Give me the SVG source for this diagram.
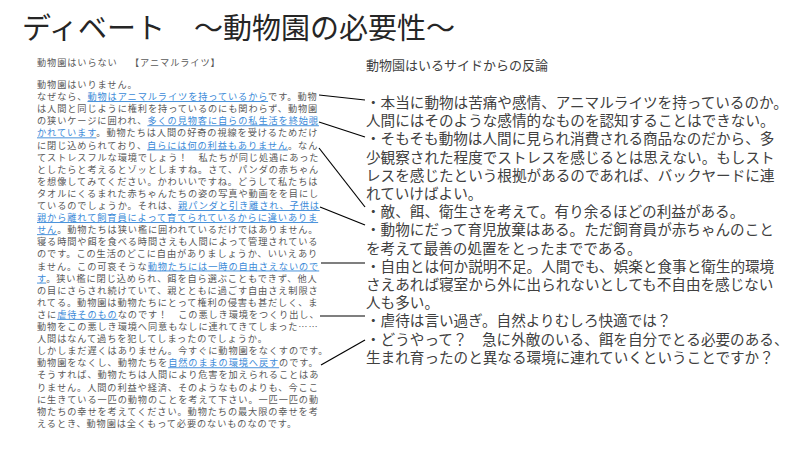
<svg xmlns="http://www.w3.org/2000/svg" width="800" height="450" viewBox="0 0 800 450">
<style>
text{font-family:"Noto Sans CJK JP","Noto Sans CJK SC",sans-serif;}
.t{font-size:29px;fill:#262626;}
.l{font-size:9.2px;letter-spacing:0.9px;fill:#595959;}
.u{fill:#3b8ad8;text-decoration:underline;}
.r{font-size:14.6px;fill:#404040;}
.h{font-size:13px;fill:#404040;}
.c{stroke:#000;stroke-width:1.2;fill:none;}
</style>
<rect width="800" height="450" fill="#fff"/>
<g id="title"><text class="t" x="22" y="39">ディベート　～動物園の必要性～</text></g>
<g id="left">
<text class="l" x="37" y="66">動物園はいらない</text>
<text class="l" x="130" y="66">【アニマルライツ】</text>
<text class="l" x="37" y="88">動物園はいりません。</text>
<text class="l" x="37" y="100.1">なぜなら、<tspan class="u">動物はアニマルライツを持っているから</tspan>です。動物</text>
<text class="l" x="37" y="112.2">は人間と同じように権利を持っているのにも関わらず、動物園</text>
<text class="l" x="37" y="124.3">の狭いケージに囲われ、<tspan class="u">多くの見物客に自らの私生活を終始覗</tspan></text>
<text class="l" x="37" y="136.4"><tspan class="u">かれています</tspan>。動物たちは人間の好奇の視線を受けるためだけ</text>
<text class="l" x="37" y="148.5">に閉じ込められており、<tspan class="u">自らには何の利益もありません</tspan>。なん</text>
<text class="l" x="37" y="160.6">てストレスフルな環境でしょう！　私たちが同じ処遇にあった</text>
<text class="l" x="37" y="172.7">としたらと考えるとゾッとしますね。さて、パンダの赤ちゃん</text>
<text class="l" x="37" y="184.8">を想像してみてください。かわいいですね。どうして私たちは</text>
<text class="l" x="37" y="196.9">タオルにくるまれた赤ちゃんたちの姿の写真や動画をを目にし</text>
<text class="l" x="37" y="209">ているのでしょうか。それは、<tspan class="u">親パンダと引き離され、子供は</tspan></text>
<text class="l" x="37" y="221.1"><tspan class="u">親から離れて飼育員によって育てられているからに違いありま</tspan></text>
<text class="l" x="37" y="233.2"><tspan class="u">せん</tspan>。動物たちは狭い檻に囲われているだけではありません。</text>
<text class="l" x="37" y="245.3">寝る時間や餌を食べる時間さえも人間によって管理されている</text>
<text class="l" x="37" y="257.4">のです。この生活のどこに自由がありましょうか、いいえあり</text>
<text class="l" x="37" y="269.5">ません。この可哀そうな<tspan class="u">動物たちには一時の自由さえないので</tspan></text>
<text class="l" x="37" y="281.6"><tspan class="u">す</tspan>。狭い檻に閉じ込められ、餌を自ら選ぶこともできず、他人</text>
<text class="l" x="37" y="293.7">の目にさらされ続けていて、親とともに過ごす自由さえ制限さ</text>
<text class="l" x="37" y="305.8">れてる。動物園は動物たちにとって権利の侵害も甚だしく、ま</text>
<text class="l" x="37" y="317.9">さに<tspan class="u">虐待そのもの</tspan>なのです！　この悪しき環境をつくり出し、</text>
<text class="l" x="37" y="330">動物をこの悪しき環境へ同意もなしに連れてきてしまった……</text>
<text class="l" x="37" y="342.1">人間はなんて過ちを犯してしまったのでしょうか。</text>
<text class="l" x="37" y="354.2">しかしまだ遅くはありません。今すぐに動物園をなくすのです。</text>
<text class="l" x="37" y="366.3">動物園をなくし、動物たちを<tspan class="u">自然のままの環境へ戻す</tspan>のです。</text>
<text class="l" x="37" y="378.4">そうすれば、動物たちは人間により危害を加えられることはあ</text>
<text class="l" x="37" y="390.5">りません。人間の利益や経済、そのようなものよりも、今ここ</text>
<text class="l" x="37" y="402.6">に生きている一匹の動物のことを考えて下さい。一匹一匹の動</text>
<text class="l" x="37" y="414.7">物たちの幸せを考えてください。動物たちの最大限の幸せを考</text>
<text class="l" x="37" y="426.8">えるとき、動物園は全くもって必要のないものなのです。</text>
</g>
<g id="right">
<text class="h" x="366" y="70">動物園はいるサイドからの反論</text>
<text class="r" x="366" y="108">・本当に動物は苦痛や感情、アニマルライツを持っているのか。</text>
<text class="r" x="366" y="126.2">人間にはそのような感情的なものを認知することはできない。</text>
<text class="r" x="366" y="144.4">・そもそも動物は人間に見られ消費される商品なのだから、多</text>
<text class="r" x="366" y="162.6">少観察された程度でストレスを感じるとは思えない。もしスト</text>
<text class="r" x="366" y="180.8">レスを感じたという根拠があるのであれば、バックヤードに連</text>
<text class="r" x="366" y="199">れていけばよい。</text>
<text class="r" x="366" y="217.2">・敵、餌、衛生さを考えて。有り余るほどの利益がある。</text>
<text class="r" x="366" y="235.4">・動物にだって育児放棄はある。ただ飼育員が赤ちゃんのこと</text>
<text class="r" x="366" y="253.6">を考えて最善の処置をとったまでである。</text>
<text class="r" x="366" y="271.8">・自由とは何か説明不足。人間でも、娯楽と食事と衛生的環境</text>
<text class="r" x="366" y="290">さえあれば寝室から外に出られないとしても不自由を感じない</text>
<text class="r" x="366" y="308.2">人も多い。</text>
<text class="r" x="366" y="326.4">・虐待は言い過ぎ。自然よりむしろ快適では？</text>
<text class="r" x="366" y="344.6">・どうやって？　急に外敵のいる、餌を自分でとる必要のある、</text>
<text class="r" x="366" y="362.8">生まれ育ったのと異なる環境に連れていくということですか？</text>
</g>
<g id="connectors">
<line class="c" x1="319" y1="95" x2="365" y2="100"/>
<line class="c" x1="319" y1="122" x2="365" y2="137"/>
<line class="c" x1="319" y1="148" x2="365" y2="207"/>
<line class="c" x1="320" y1="207" x2="365" y2="225"/>
<line class="c" x1="321" y1="263" x2="365" y2="263"/>
<line class="c" x1="320" y1="316" x2="365" y2="316"/>
<line class="c" x1="321" y1="365" x2="365" y2="340"/>
</g>
</svg>
